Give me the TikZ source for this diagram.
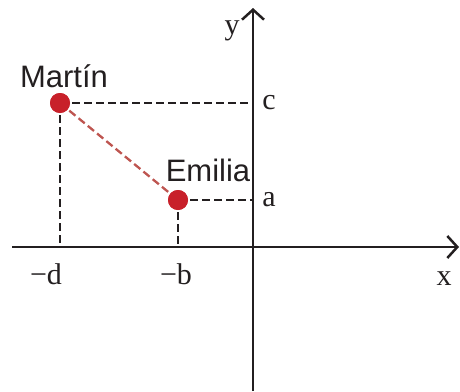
\documentclass[tikz,border=0pt]{standalone}
\usepackage{fontspec}
\setmainfont{Liberation Serif}
\setsansfont{Liberation Sans}
\usepackage{xcolor}
\usepackage{tikz}
\usetikzlibrary{arrows.meta}

\definecolor{dotred}{HTML}{C8202A}
\definecolor{linkred}{HTML}{BE5550}
\definecolor{inkblack}{HTML}{231F20}

\begin{document}
\begin{tikzpicture}[
  x=0.5pt, y=-0.5pt,
  axis/.style={draw=inkblack, line width=1.25pt, -{Straight Barb[length=5pt,width=11pt]}},
  guide/.style={draw=inkblack, line width=1.15pt, dash pattern=on 4pt off 2pt},
  link/.style={draw=linkred, line width=1.15pt, dash pattern=on 4pt off 2pt},
  dot/.style={circle, fill=dotred, minimum size=10pt, inner sep=0pt},
  personlabel/.style={font=\sffamily\fontsize{15.5}{18}\selectfont, text=inkblack},
  axislabel/.style={font=\fontsize{15}{18}\selectfont, text=inkblack}
]
\useasboundingbox (0,0) rectangle (460,391);

% axes
\coordinate (xl) at (12,247);
\coordinate (xr) at (459,247);
\coordinate (yb) at (253,391);
\coordinate (yt) at (253,8);
\draw[axis] (xl) -- (xr);
\draw[axis] (yb) -- (yt);

% people
\node[dot] (martin) at (60,103) {};
\node[dot] (emilia) at (178,200) {};
\coordinate (cy) at (253,103);
\coordinate (ay) at (253,200);
\coordinate (dx) at (60,247);
\coordinate (bx) at (178,247);

\draw[guide] (martin.center) -- (cy);
\draw[guide] (martin.center) -- (dx);
\draw[guide] (emilia.center) -- (ay);
\draw[guide] (emilia.center) -- (bx);
\draw[link] (martin.center) -- (emilia.center);
\node[dot] at (martin) {};
\node[dot] at (emilia) {};

% labels
\node[personlabel] (lmartin) at (64,76) {Martín};
\node[personlabel] (lemilia) at (208,170) {Emilia};
\node[axislabel] (ly) at (232,31) {y};
\node[axislabel] (lx) at (444,279) {x};
\node[axislabel] (lc) at (269,103) {c};
\node[axislabel] (la) at (269,200) {a};
\node[axislabel] (ld) at (46,274) {−d};
\node[axislabel] (lb) at (176,274) {−b};
\end{tikzpicture}
\end{document}
